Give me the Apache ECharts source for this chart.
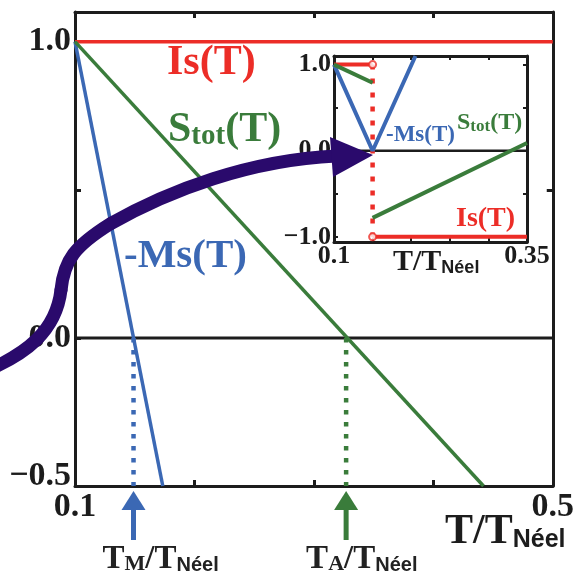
<!DOCTYPE html>
<html><head><meta charset="utf-8">
<script src="https://cdn.jsdelivr.net/npm/echarts@6/dist/echarts.min.js"></script>
<style>html,body{margin:0;padding:0;background:#fff}#c{width:577px;height:575px}</style>
</head><body><div id="c"></div>
<script>
// ---------- main panel data ----------
const xRangeMain = [0.1, 0.5];
const yRangeMain = [-0.5, 1.1];
const xTicksMain = [0.2, 0.3, 0.4];
const xLabelsMain = [0.1, 0.5];
const yTicksMain = [-0.5, 0, 0.5, 1.0];
const yLabelsMain = [-0.5, 0, 1.0];
const isMain = [[0.1, 1.0], [0.5, 1.0]];
const msMain = [[0.1, 1.0], [0.1735, -0.5]];
const stotMain = [[0.1, 1.0], [0.442, -0.5]];
const zeroMain = [[0.1, 0], [0.5, 0]];
const T_M = 0.149;
const T_A = 0.327;
const tmDrop = [[T_M, 0], [T_M, -0.5]];
const taDrop = [[T_A, 0], [T_A, -0.5]];

// ---------- inset data ----------
const xRangeInset = [0.1, 0.35];
const yRangeInset = [-1.06, 1.1];
const xTicksInset = [0.15, 0.2, 0.25, 0.3];
const xLabelsInset = [0.1, 0.35];
const yTicksInset = [-1, -0.5, 0, 0.5, 1];
const yLabelsInset = [-1, 0, 1];
const isInsetA = [[0.1, 1], [0.15, 1]];
const isInsetB = [[0.15, -1], [0.35, -1]];
const isJump = [[0.15, 1], [0.15, -1]];
const openCircles = [[0.15, 1], [0.15, -1]];
const msInset = [[0.1, 1], [0.15, 0], [0.2055, 1.1]];
const stotInsetA = [[0.1, 1], [0.15, 0.79]];
const stotInsetB = [[0.15, -0.78], [0.35, 0.09]];
const zeroInset = [[0.1, 0], [0.35, 0]];

const RED = '#ec2d27', BLUE = '#3b68b4', GREEN = '#3a7c3b', PURPLE = '#2a0a6c', BLACK = '#1c1c1c';
const SERIF = '"Liberation Serif","Times New Roman",serif';
const SANS = '"Liberation Sans",Arial,sans-serif';

function fmt(v) {
  return v.toFixed(v === 0.35 ? 2 : 1).replace('-', '\u2212');
}

function axisBase(min, max, pos, grid, tickVals, labelVals, tickLen, fontSize, showLabel) {
  return {
    type: 'value', min: min, max: max, position: pos, gridIndex: grid,
    axisLine: { show: true, onZero: false, lineStyle: { color: BLACK, width: 3 } },
    axisTick: { show: true, inside: true, length: tickLen, customValues: tickVals, lineStyle: { color: BLACK, width: grid === 0 ? 3 : 2 } },
    axisLabel: {
      show: showLabel, customValues: labelVals, formatter: fmt,
      fontFamily: SERIF, fontWeight: 'bold', fontSize: fontSize, color: BLACK
    },
    splitLine: { show: false }
  };
}

const xAxes = [
  axisBase(xRangeMain[0], xRangeMain[1], 'bottom', 0, xTicksMain, xLabelsMain, 6, 34, true),
  axisBase(xRangeMain[0], xRangeMain[1], 'top', 0, xTicksMain, [], 6, 34, false),
  axisBase(xRangeInset[0], xRangeInset[1], 'bottom', 1, xTicksInset, xLabelsInset, 4, 26, true),
  axisBase(xRangeInset[0], xRangeInset[1], 'top', 1, xTicksInset, [], 4, 26, false)
];
xAxes[0].axisLabel.margin = 4;
xAxes[2].axisLabel.margin = 1;

const yAxes = [
  axisBase(yRangeMain[0], yRangeMain[1], 'left', 0, yTicksMain, yLabelsMain, 6, 34, true),
  axisBase(yRangeMain[0], yRangeMain[1], 'right', 0, [0.5], [], 6, 34, false),
  axisBase(yRangeInset[0], yRangeInset[1], 'left', 1, yTicksInset, yLabelsInset, 4, 26, true),
  axisBase(yRangeInset[0], yRangeInset[1], 'right', 1, yTicksInset, [], 4, 26, false)
];
yAxes[0].axisLabel.margin = 4;
yAxes[0].axisLabel.formatter = function (v) {
  return v < 0 ? '{up|' + fmt(v) + '}' : '{n|' + fmt(v) + '}';
};
yAxes[0].axisLabel.rich = {
  up: { fontFamily: SERIF, fontWeight: 'bold', fontSize: 34, color: BLACK, padding: [0, 0, 20, 0] },
  n: { fontFamily: SERIF, fontWeight: 'bold', fontSize: 34, color: BLACK }
};
yAxes[2].axisLabel.margin = 3;

function ln(data, color, xi, width, dash, z) {
  return {
    type: 'line', data: data, xAxisIndex: xi, yAxisIndex: xi, symbol: 'none',
    lineStyle: { color: color, width: width, type: dash ? dash : 'solid', cap: 'butt' },
    z: z || 2, silent: true, animation: false, clip: true
  };
}

const series = [
  ln(zeroMain, BLACK, 0, 3),
  ln(isMain, RED, 0, 3.5),
  ln(msMain, BLUE, 0, 3.5),
  ln(stotMain, GREEN, 0, 3.5),
  ln(tmDrop, BLUE, 0, 4.5, [4.5, 7.5]),
  ln(taDrop, GREEN, 0, 4.5, [4.5, 7.5]),
  ln(zeroInset, BLACK, 2, 2.5),
  ln(isJump, RED, 2, 4.5, [5, 9]),
  ln(isInsetA, RED, 2, 4),
  ln(isInsetB, RED, 2, 4),
  ln(msInset, BLUE, 2, 4),
  ln(stotInsetA, GREEN, 2, 4),
  ln(stotInsetB, GREEN, 2, 4),
  {
    type: 'scatter', data: openCircles, xAxisIndex: 2, yAxisIndex: 2, symbol: 'circle', symbolSize: 7,
    itemStyle: { color: '#fff', borderColor: RED, borderWidth: 2 }, z: 5, silent: true, animation: false
  }
];

const chart = echarts.init(document.getElementById('c'), null, { renderer: 'canvas' });
chart.setOption({
  backgroundColor: '#fff',
  animation: false,
  grid: [
    { left: 75, top: 12, width: 478, height: 474, containLabel: false },
    { left: 334, top: 56, width: 193, height: 186, containLabel: false, show: true, backgroundColor: '#fff', borderWidth: 0 }
  ],
  xAxis: xAxes,
  yAxis: yAxes,
  series: series
});

// ---------- annotations ----------
function txt(x, y, text, rich, align, z) {
  return { type: 'text', x: x, y: y, z: z || 50, style: { text: text, rich: rich, align: align || 'left', verticalAlign: 'middle' } };
}
function r(size, color, fam) {
  return { fontSize: size, fontFamily: fam || SERIF, fontWeight: 'bold', fill: color, verticalAlign: 'bottom' };
}

const pM = chart.convertToPixel({ xAxisIndex: 0, yAxisIndex: 0 }, [T_M, -0.5]);
const pA = chart.convertToPixel({ xAxisIndex: 0, yAxisIndex: 0 }, [T_A, -0.5]);

function upArrow(px, py, color) {
  return [
    { type: 'polygon', z: 40, shape: { points: [[px, py + 5], [px - 12, py + 24], [px + 12, py + 24]] }, style: { fill: color } },
    { type: 'rect', z: 40, shape: { x: px - 2.5, y: py + 22, width: 5, height: 32 }, style: { fill: color } }
  ];
}

const graphics = [].concat(
  upArrow(pM[0], pM[1], BLUE),
  upArrow(pA[0], pA[1], GREEN),
  [
    // main curve labels
    txt(167, 63, '{a|Is(T)}', { a: r(42, RED) }),
    txt(168, 130, '{a|S}{b|tot}{a|(T)}', { a: r(42, GREEN), b: r(29, GREEN) }),
    txt(124, 256, '{a|-Ms(T)}', { a: r(41, BLUE) }),
    // inset curve labels
    txt(386, 135, '{a|-Ms(T)}', { a: r(23, BLUE) }),
    txt(457, 123, '{a|S}{b|tot}{a|(T)}', { a: r(24, GREEN), b: r(17, GREEN) }),
    txt(456, 219, '{a|Is(T)}', { a: r(28, RED) }),
    // axis titles
    txt(445, 532, '{a|T/T}{b|Néel}', { a: r(42, BLACK), b: r(25, BLACK, SANS) }),
    txt(393, 262, '{a|T/T}{b|Néel}', { a: r(30, BLACK), b: r(18, BLACK, SANS) }),
    txt(pM[0] - 31, 559, '{a|T}{m|M}{a|/T}{b|Néel}', { a: r(33, '#222'), m: r(22, '#222'), b: r(20, '#222', SANS) }),
    txt(pA[0] - 40, 559, '{a|T}{m|A}{a|/T}{b|Néel}', { a: r(33, '#222'), m: r(22, '#222'), b: r(20, '#222', SANS) }),
    // big purple arrow
    { type: 'bezierCurve', z: 60, shape: { x1: -12, y1: 370, cpx1: 25, cpy1: 354, cpx2: 56, cpy2: 332, x2: 61, y2: 290 }, style: { stroke: PURPLE, lineWidth: 13, fill: null, lineCap: 'round' } },
    { type: 'bezierCurve', z: 60, shape: { x1: 61, y1: 290, cpx1: 64, cpy1: 260, cpx2: 75, cpy2: 246, x2: 110, y2: 224 }, style: { stroke: PURPLE, lineWidth: 13, fill: null, lineCap: 'round' } },
    { type: 'bezierCurve', z: 60, shape: { x1: 110, y1: 224, cpx1: 170, cpy1: 190, cpx2: 250, cpy2: 160, x2: 336, y2: 156 }, style: { stroke: PURPLE, lineWidth: 13, fill: null, lineCap: 'butt' } },
    { type: 'polygon', z: 61, shape: { points: [[330, 137], [373, 155], [333, 177]] }, style: { fill: PURPLE } }
  ]
);
chart.setOption({ graphic: graphics });
</script>
</body></html>
